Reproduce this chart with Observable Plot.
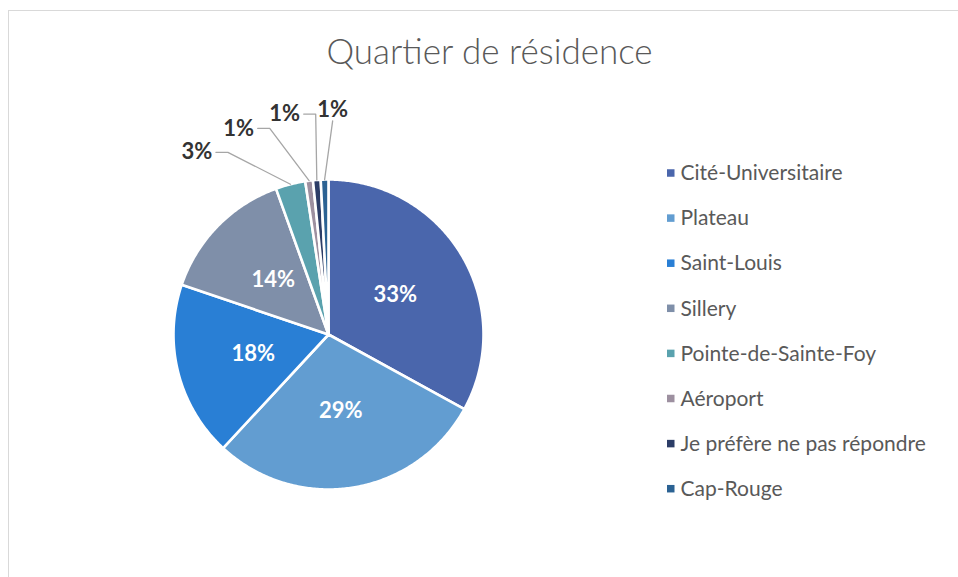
<!DOCTYPE html>
<html><head><meta charset="utf-8">
<script src="https://cdn.jsdelivr.net/npm/d3@7"></script>
<script src="https://cdn.jsdelivr.net/npm/@observablehq/plot@0.6"></script>
<style>
html,body{margin:0;padding:0;background:#fff;}
#wrap{position:relative;width:958px;height:577px;overflow:hidden;}
#chart{position:absolute;left:0;top:0;}
#frame{position:absolute;left:8px;top:10px;width:1000px;height:700px;border:1px solid #d9d9d9;pointer-events:none;}
</style></head>
<body><div id="wrap"><div id="chart"></div><div id="frame"></div></div>
<script>
const title = "Quartier de résidence";
const categories = ["Cité-Universitaire","Plateau","Saint-Louis","Sillery","Pointe-de-Sainte-Foy","Aéroport","Je préfère ne pas répondre","Cap-Rouge"];
const values = [33.0, 28.9, 18.3, 14.3, 3.1, 0.8, 0.8, 0.8];
const colors = ["#4a66ac","#629dd1","#297fd5","#7f8fa9","#5aa2ae","#9d90a0","#2c3d67","#2b6293"];

const W = 958, H = 577;
const cx = 328, cy = 334, r = 155;
const FONT = "Lato, 'Open Sans', sans-serif";

const data = categories.map((cat, i) => ({cat, value: values[i]}));
const total = d3.sum(values);
const arcs = d3.pie().sort(null).value(d => d.value)(data);
const pt = (a, rad) => [cx + rad * Math.sin(a), cy - rad * Math.cos(a)];

// slice polygons
const slicePts = arcs.flatMap(p => {
  const n = Math.max(3, Math.ceil((p.endAngle - p.startAngle) / 0.01));
  const pts = [[cx, cy]];
  for (let k = 0; k <= n; k++) pts.push(pt(p.startAngle + (p.endAngle - p.startAngle) * k / n, r));
  pts.push([cx, cy]);
  return pts.map(([x, y]) => ({x, y, cat: p.data.cat}));
});

const pctText = p => Math.round(p.value / total * 100) + "%";

// inside labels
const inner = arcs.filter(p => p.value / total >= 0.05).map(p => {
  const [x, y] = pt((p.startAngle + p.endAngle) / 2, r * 0.5);
  return {x, y, text: pctText(p)};
});

// outside labels, spread counter-clockwise from the top
const small = arcs.filter(p => p.value / total < 0.05);
const Rl = r * 1.45, sep = 12.3 * Math.PI / 180, lw = 32, shift = 2.5 * Math.PI / 180;
let ang = null;
const outer = [], leaders = [];
small.slice().reverse().forEach((p, j) => {
  const mid = (p.startAngle + p.endAngle) / 2;
  ang = ang === null ? mid + shift : Math.min(mid, ang - sep);
  const [lx, ly] = pt(ang, Rl);
  const [ex, ey] = pt(mid, r);
  outer.push({x: lx, y: ly, text: pctText(p)});
  let path;
  if (lx + lw / 2 + 4 < ex) {
    const ax = lx + lw / 2 + 3;
    path = [[ax, ly], [Math.min(ax + 12, ex), ly], [ex, ey]];
  } else {
    path = [[lx, ly + 11], [ex, ey]];
  }
  path.forEach(([x, y]) => leaders.push({x, y, id: j}));
});

// legend
const legTop = 173, legStep = 45.1, legX = 667;
const legend = categories.map((cat, i) => ({cat, y: legTop + i * legStep}));

const chart = Plot.plot({
  width: W, height: H, margin: 0,
  x: {type: "identity", axis: null},
  y: {type: "identity", axis: null},
  color: {domain: categories, range: colors},
  style: {background: "transparent"},
  marks: [
    Plot.line(slicePts, {x: "x", y: "y", z: "cat", fill: "cat", stroke: "white", strokeWidth: 2.6, strokeLinejoin: "round", curve: "linear"}),
    Plot.line(leaders, {x: "x", y: "y", z: "id", stroke: "#a6a6a6", strokeWidth: 1.3}),
    Plot.text(inner, {x: "x", y: "y", text: "text", fill: "white", fontWeight: "bold", fontSize: 22, fontFamily: FONT}),
    Plot.text(outer, {x: "x", y: "y", text: "text", fill: "#333333", fontWeight: "bold", fontSize: 22, fontFamily: FONT}),
    Plot.rect(legend, {x1: legX, x2: legX + 7.5, y1: d => d.y - 3.75, y2: d => d.y + 3.75, fill: "cat"}),
    Plot.text(legend, {x: legX + 13, y: "y", text: "cat", textAnchor: "start", fill: "#595959", fontSize: 21, fontFamily: FONT}),
    Plot.text([title], {frameAnchor: "top", dx: 10, dy: 39, text: d => d, fill: "#595959", fontSize: 35, fontWeight: 300, fontFamily: FONT})
  ]
});
document.getElementById("chart").appendChild(chart);
</script>
</body></html>
